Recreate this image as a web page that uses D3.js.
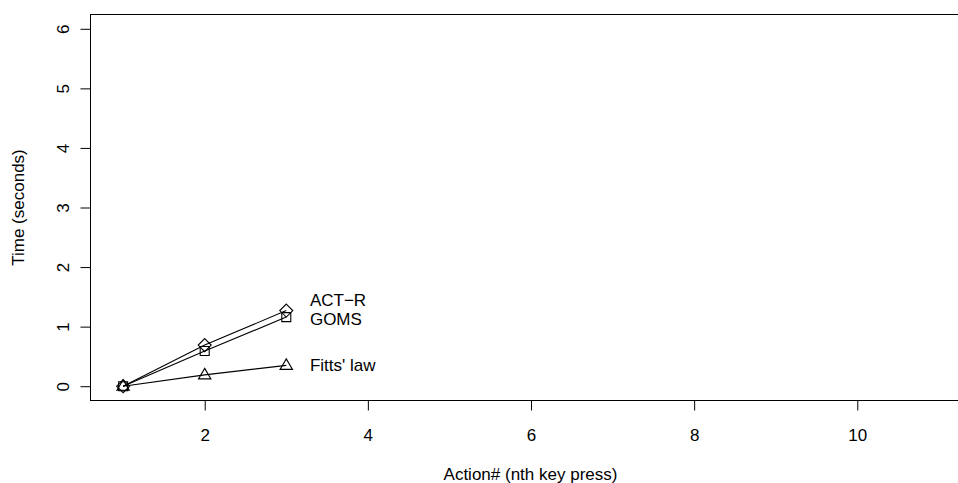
<!DOCTYPE html>
<html><head><meta charset="utf-8">
<script src="https://cdn.jsdelivr.net/npm/d3@7"></script>
<style>body{margin:0;background:#fff}svg{display:block}text{font-family:"Liberation Sans",Arial,sans-serif;fill:#000}</style>
</head><body>
<svg id="c" width="958" height="483"></svg>
<script>
const actions = [1, 2, 3];
const actR = [0, 0.69, 1.27];
const goms = [0, 0.59, 1.16];
const fitts = [0, 0.19, 0.35];
const seriesNames = ["ACT\u2212R", "GOMS", "Fitts' law"];
const labelX = [3.29, 3.29, 3.29];
const labelY = [1.45, 1.13, 0.36];
const xTicks = [2, 4, 6, 8, 10];
const yTicks = [0, 1, 2, 3, 4, 5, 6];

const FS = 17;
const svg = d3.select("#c");
const x = d3.scaleLinear().domain([0.6, 11.4]).range([90.5, 971.5]);
const y = d3.scaleLinear().domain([-0.24, 6.24]).range([400.5, 14.5]);

svg.append("rect").attr("x", 90.5).attr("y", 14.5).attr("width", 881).attr("height", 386)
  .attr("fill", "none").attr("stroke", "#000").attr("stroke-width", 1);

const xa = svg.append("g").attr("transform", "translate(0,400.5)")
  .call(d3.axisBottom(x).tickValues(xTicks).tickSize(10).tickPadding(18).tickFormat(d3.format("d")));
xa.select(".domain").remove();
xa.selectAll("text").attr("font-size", FS).style("font-family", "Liberation Sans, Arial, sans-serif");

const ya = svg.append("g").attr("transform", "translate(90.5,0)")
  .call(d3.axisLeft(y).tickValues(yTicks).tickSize(10).tickFormat(d3.format("d")));
ya.select(".domain").remove();
ya.selectAll("text").attr("font-size", FS).style("font-family", "Liberation Sans, Arial, sans-serif")
  .attr("x", null).attr("dy", null).attr("text-anchor", "middle")
  .attr("transform", "translate(-27,0) rotate(-90)").attr("dy", "0.35em");

svg.append("text").attr("x", 530.5).attr("y", 480).attr("text-anchor", "middle").attr("font-size", FS)
  .text("Action# (nth key press)");
svg.append("text").attr("transform", "translate(24,207.5) rotate(-90)").attr("text-anchor", "middle").attr("font-size", FS)
  .text("Time (seconds)");

const series = [actR, goms, fitts];
const line = d3.line().x((d, i) => x(actions[i])).y(d => y(d));
const plot = svg.append("g");
series.forEach(s => {
  plot.append("path").attr("d", line(s)).attr("fill", "none").attr("stroke", "#000").attr("stroke-width", 1.1);
});
const shapes = [
  (cx, cy) => `M${cx},${cy-6.5}L${cx+6.5},${cy}L${cx},${cy+6.5}L${cx-6.5},${cy}Z`,
  (cx, cy) => `M${cx-4.5},${cy-4.5}h9v9h-9Z`,
  (cx, cy) => `M${cx},${cy-6.5}L${cx+6.2},${cy+4}L${cx-6.2},${cy+4}Z`
];
series.forEach((s, k) => {
  s.forEach((v, i) => {
    plot.append("path").attr("d", shapes[k](x(actions[i]), y(v)))
      .attr("fill", "none").attr("stroke", "#000").attr("stroke-width", 1.1);
  });
});
seriesNames.forEach((n, k) => {
  svg.append("text").attr("x", x(labelX[k])).attr("y", y(labelY[k])).attr("dy", "0.35em")
    .attr("font-size", FS).text(n);
});
</script>
</body></html>
